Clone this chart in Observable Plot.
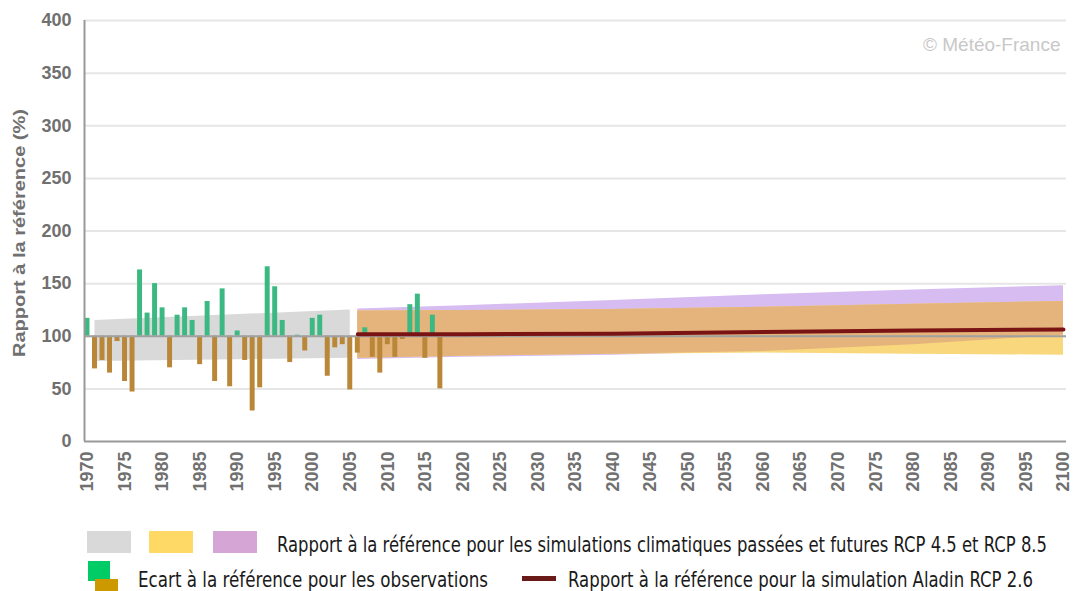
<!DOCTYPE html>
<html><head><meta charset="utf-8">
<script src="https://cdn.jsdelivr.net/npm/d3@7"></script>
<script src="https://cdn.jsdelivr.net/npm/@observablehq/plot@0.6"></script>
<style>
html,body{margin:0;padding:0;background:#fff}
body{width:1074px;height:591px;position:relative;overflow:hidden;font-family:"Liberation Sans",Arial,sans-serif}
#chart{position:absolute;left:0;top:0}
.sw{position:absolute}
.lt{position:absolute;font-family:"Liberation Sans Narrow","DejaVu Sans Condensed","Liberation Sans",sans-serif;font-size:21px;color:#1a1a1a;white-space:nowrap;transform-origin:0 50%;line-height:24px}
</style></head><body>
<div id="chart"></div>
<div class="sw" style="left:87px;top:531px;width:44px;height:22px;background:#d9d9d9"></div>
<div class="sw" style="left:149px;top:531px;width:44px;height:22px;background:#ffd966"></div>
<div class="sw" style="left:213px;top:531px;width:44px;height:22px;background:#d5a6d5"></div>
<div class="lt" id="t1" style="left:277px;top:533px">Rapport à la référence pour les simulations climatiques passées et futures RCP 4.5 et RCP 8.5</div>
<div class="sw" style="left:88px;top:561px;width:22px;height:20px;background:#00cc66"></div>
<div class="sw" style="left:95px;top:579px;width:23px;height:14px;background:#cc9900"></div>
<div class="lt" id="t2" style="left:138px;top:568px">Ecart à la référence pour les observations</div>
<div class="sw" style="left:522px;top:576px;width:34px;height:5px;background:#6b1a1a"></div>
<div class="lt" id="t3" style="left:568px;top:568px">Rapport à la référence pour la simulation Aladin RCP 2.6</div>
<script>
// Observations (ratio to reference, %)
const obsYears = [1970,1971,1972,1973,1974,1975,1976,1977,1978,1979,1980,1981,1982,1983,1984,1985,1986,1987,1988,1989,1990,1991,1992,1993,1994,1995,1996,1997,1998,1999,2000,2001,2002,2003,2004,2005,2006,2007,2008,2009,2010,2011,2012,2013,2014,2015,2016,2017];
const obsValues = [117,69,77,65,95,57,47,163,122,150,127,70,120,127,115,73,133,57,145,52,105,77,29,51,166,147,115,75,101,86,117,120,62,89,92,49,84,108,80,65,92,80,97,130,140,79,120,50];

// Past simulations band (grey)
const pastYears = [1971, 2005];
const pastLow = [76, 79];
const pastHigh = [115, 125];

// Future simulations bands
const futYears = [2006, 2020, 2040, 2060, 2080, 2100];
const rcp45Low = [79, 81, 83, 84, 83, 82];
const rcp45High = [124, 124.5, 125.5, 127.5, 130.5, 133];
const rcp85Low = [78, 80, 82, 85.5, 92, 101];
const rcp85High = [126, 129, 134, 139.5, 144, 148];

// Aladin RCP 2.6
const aladinYears = [2006, 2020, 2040, 2060, 2080, 2100];
const aladinValues = [102, 102, 102.3, 104, 105.5, 106.5];

const xTicks = d3.range(1970, 2101, 5);
const yTicks = [0, 50, 100, 150, 200, 250, 300, 350, 400];
const yTitle = "Rapport à la référence (%)";
const watermark = "© Météo-France";

const obs = obsYears.map((year, i) => ({year, value: obsValues[i]}));
const past = pastYears.map((year, i) => ({year, low: pastLow[i], high: pastHigh[i]}));
const fut = futYears.map((year, i) => ({
  year,
  low45: rcp45Low[i], high45: rcp45High[i],
  low85: rcp85Low[i], high85: rcp85High[i],
  lowBoth: Math.max(rcp45Low[i], rcp85Low[i]),
  highBoth: Math.min(rcp45High[i], rcp85High[i])
}));
const aladin = aladinYears.map((year, i) => ({year, value: aladinValues[i]}));

const chart = Plot.plot({
  width: 1074, height: 500,
  marginTop: 20, marginBottom: 59, marginLeft: 84, marginRight: 8,
  x: {domain: [1969.6, 2100.4]},
  y: {domain: [0, 400]},
  style: {fontFamily: "'Liberation Sans', Arial, sans-serif", fontSize: "18px", fontWeight: "bold", background: "#fff", color: "#707070"},
  marks: [
    Plot.gridY(yTicks.filter(v => v > 0), {stroke: "#e6e6e6", strokeOpacity: 1, strokeWidth: 2}),
    Plot.areaY(past, {x: "year", y1: "low", y2: "high", fill: "#d9d9d9"}),
    Plot.areaY(fut, {x: "year", y1: "low85", y2: "high85", fill: "#d6bcf0"}),
    Plot.areaY(fut, {x: "year", y1: "low45", y2: "high45", fill: "#f9d77c"}),
    Plot.areaY(fut, {x: "year", y1: "lowBoth", y2: "highBoth", fill: "#e4b47c"}),
    Plot.rect(obs.filter(d => d.value >= 100), {x1: d => d.year - 0.33, x2: d => d.year + 0.33, y1: 100, y2: "value", fill: "#3cb982"}),
    Plot.rect(obs.filter(d => d.value < 100), {x1: d => d.year - 0.33, x2: d => d.year + 0.33, y1: 100, y2: "value", fill: "#b98737"}),
    Plot.ruleY([100], {stroke: "#a0a0a0", strokeWidth: 2}),
    Plot.line(aladin, {x: "year", y: "value", stroke: "#7a1414", strokeWidth: 4, strokeLinecap: "round"}),
    Plot.ruleX([1969.6], {stroke: "#999", strokeWidth: 2}),
    Plot.ruleY([0], {stroke: "#999", strokeWidth: 2}),
    Plot.axisY({ticks: yTicks, tickSize: 0, tickPadding: 13, color: "#707070", label: null}),
    Plot.axisX({ticks: xTicks, tickSize: 0, tickRotate: -90, tickPadding: 10, tickFormat: d => String(d), color: "#707070", label: null}),
    Plot.text([yTitle], {frameAnchor: "left", rotate: -90, dx: -65, dy: 126, textAnchor: "start", fontSize: 17, fill: "#707070", className: "ytitle"}),
    Plot.text([watermark], {frameAnchor: "top-right", dx: -6, dy: 17, textAnchor: "end", fill: "#c8c8c8", fontSize: 19, fontWeight: "normal"})
  ]
});
document.getElementById("chart").appendChild(chart);

// stretch the y title to the reference length
const yt = chart.querySelector(".ytitle text");
if (yt) { yt.setAttribute("textLength", 248); yt.setAttribute("lengthAdjust", "spacingAndGlyphs"); }

// fit legend text widths to the reference layout
[["t1", 770], ["t2", 350], ["t3", 465]].forEach(([id, w]) => {
  const el = document.getElementById(id);
  const actual = el.getBoundingClientRect().width;
  if (actual > 0) el.style.transform = `scaleX(${w / actual})`;
});
</script>
</body></html>
